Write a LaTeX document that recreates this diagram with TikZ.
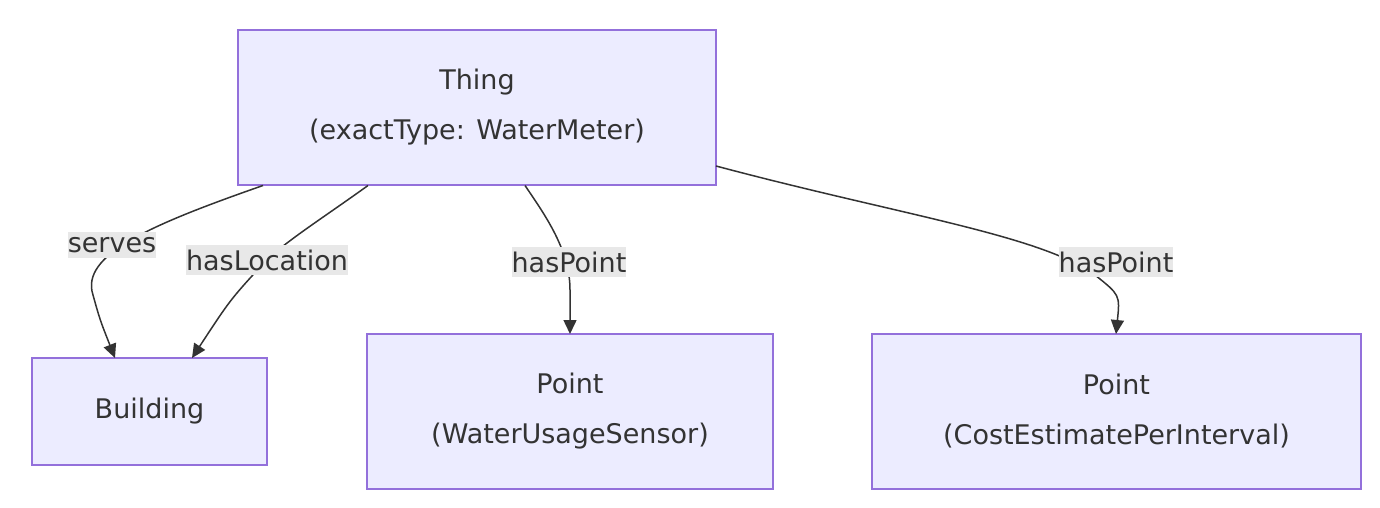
\documentclass[tikz,border=0pt]{standalone}
\usepackage{fontspec}
\setmainfont{DejaVu Sans}
\usetikzlibrary{arrows.meta}
\definecolor{nfill}{HTML}{ECECFF}
\definecolor{nstroke}{HTML}{9370DB}
\definecolor{edge}{HTML}{333333}
\definecolor{lbl}{HTML}{E8E8E8}
\begin{document}
\begin{tikzpicture}[x=1pt,y=-1pt,
  box/.style={draw=nstroke,fill=nfill,line width=1.5pt,align=center,font=\fontsize{27}{50}\selectfont,text=edge,inner sep=0pt},
  conn/.style={draw=edge,line width=1.5pt,-{Triangle[length=14pt,width=13pt]}},
  elab/.style={fill=lbl,font=\fontsize{27}{30}\selectfont,text=edge,inner xsep=0pt,inner ysep=5pt}]
\useasboundingbox (0,0) rectangle (1380,508);
\node[box,minimum width=478pt,minimum height=155pt] (thing) at (477,107.5) {Thing\\(exactType: WaterMeter)};
\node[box,minimum width=235pt,minimum height=107pt] (bld) at (149.5,411.5) {Building};
\node[box,minimum width=406pt,minimum height=155pt] (p1) at (570,411.5) {Point\\(WaterUsageSensor)};
\node[box,minimum width=489pt,minimum height=155pt] (p2) at (1116.5,411.5) {Point\\(CostEstimatePerInterval)};
\coordinate (s1) at (263,185.5);
\coordinate (s2) at (368,185.5);
\coordinate (s3) at (525,185.5);
\coordinate (s4) at (716,166);
\coordinate (e1) at (115,358);
\coordinate (e2) at (192,358);
\coordinate (e3) at (570,334);
\coordinate (e4) at (1116,334);
\draw[conn] (s1) .. controls (150,225) and (80,255) .. (93,295) .. controls (100,320) .. (e1);
\draw[conn] (s2) .. controls (320,220) and (280,245) .. (262,265) .. controls (230,300) .. (e2);
\draw[conn] (s3) .. controls (545,215) and (570,250) .. (570,290) -- (e3);
\draw[conn] (s4) .. controls (900,215) and (1040,235) .. (1095,275) .. controls (1120,295) .. (e4);
\node[elab] (l1) at (112,245) {serves};
\node[elab] (l2) at (267,260) {hasLocation};
\node[elab] (l3) at (569,262) {hasPoint};
\node[elab] (l4) at (1116,262) {hasPoint};
\end{tikzpicture}
\end{document}
